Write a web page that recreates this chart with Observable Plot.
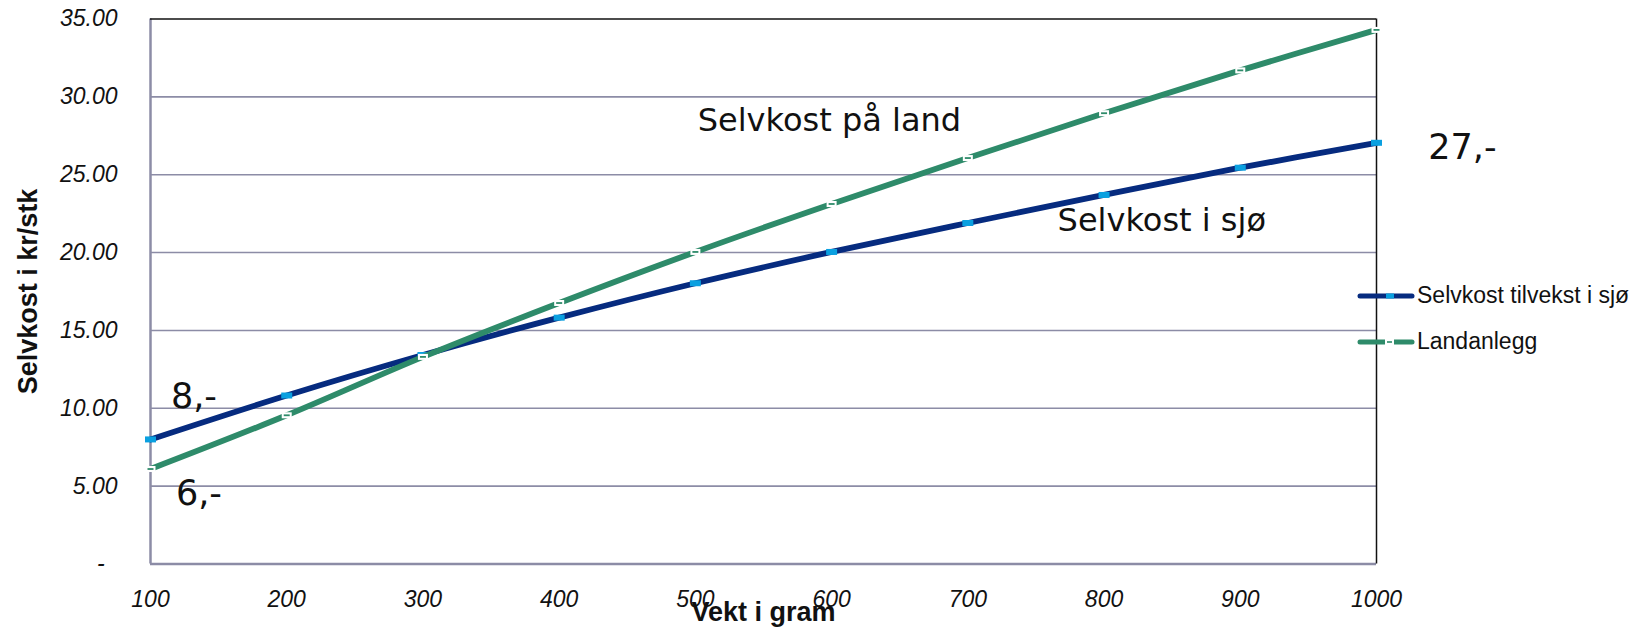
<!DOCTYPE html>
<html><head><meta charset="utf-8">
<script src="https://cdn.jsdelivr.net/npm/d3@7"></script>
<script src="https://cdn.jsdelivr.net/npm/@observablehq/plot@0.6"></script>
<style>
html,body{margin:0;padding:0;background:#fff;}
#wrap{position:relative;width:1636px;height:628px;overflow:hidden;}
#legend{position:absolute;left:0;top:0;pointer-events:none;}
</style></head><body><div id="wrap"></div>
<script>
// ---- data ----
const weights  = [100, 200, 300, 400, 500, 600, 700, 800, 900, 1000];
const seaCost  = [8.0, 10.82, 13.42, 15.82, 18.03, 20.04, 21.9, 23.7, 25.45, 27.05];
const landCost = [6.1, 9.55, 13.3, 16.76, 20.04, 23.12, 26.07, 28.95, 31.7, 34.3];
const seriesNames  = ["Selvkost tilvekst i sjø", "Landanlegg"];
const seriesColors = ["#062b7f", "#2e8b6a"];
const markerColor  = "#0aa0e0";
const yTicks = [0, 5, 10, 15, 20, 25, 30, 35];
const gridTicks = [5, 10, 15, 20, 25, 30];
const xTitle = "Vekt i gram";
const yTitle = "Selvkost i kr/stk";
const noteLabels = ["Selvkost på land", "Selvkost i sjø"];
const noteX = [501.7, 765.9];
const noteY = [27.8, 21.4];
const valueLabels = ["8,-", "6,-", "27,-"];
const valueX = [115, 118.7, 1038];
const valueY = [10.05, 3.76, 26.04];

const sea  = weights.map((w, i) => ({w, v: seaCost[i]}));
const land = weights.map((w, i) => ({w, v: landCost[i]}));
const notes = noteLabels.map((t, i) => ({t, x: noteX[i], y: noteY[i]}));
const values = valueLabels.map((t, i) => ({t, x: valueX[i], y: valueY[i]}));

const rectSymbol = (w, h) => ({draw(ctx) {
  ctx.moveTo(-w/2, -h/2); ctx.lineTo(w/2, -h/2); ctx.lineTo(w/2, h/2); ctx.lineTo(-w/2, h/2); ctx.closePath();
}});

const gridColor = "#8c8ca6";
const W = 1636, H = 628;

const chart = Plot.plot({
  width: W, height: H,
  marginLeft: 150, marginRight: 260, marginTop: 18.5, marginBottom: 64.5,
  style: {fontFamily: "Liberation Sans, Arial, sans-serif", background: "#fff", color: "#111"},
  x: {domain: [100, 1000], label: null},
  y: {domain: [0, 35], label: null},
  marks: [
    Plot.ruleY(gridTicks, {stroke: gridColor, strokeWidth: 1.6}),
    Plot.ruleY([0], {stroke: gridColor, strokeWidth: 2.5}),
    Plot.ruleX([100], {stroke: gridColor, strokeWidth: 2.5}),
    Plot.ruleY([35], {stroke: "#111", strokeWidth: 1.5}),
    Plot.ruleX([1000], {stroke: "#111", strokeWidth: 1.5}),
    Plot.axisX({ticks: weights, tickSize: 0, tickPadding: 27, tickFormat: d => String(d),
      fontSize: 23, fontStyle: "italic", fill: "#111"}),
    Plot.axisY({ticks: yTicks, tickSize: 0, tickPadding: 33,
      tickFormat: d => d === 0 ? "-\u00a0\u00a0" : d.toFixed(2),
      fontSize: 23, fontStyle: "italic", fill: "#111"}),
    Plot.line(sea, {x: "w", y: "v", stroke: seriesColors[0], strokeWidth: 5.8, curve: "catmull-rom"}),
    Plot.dot(sea, {x: "w", y: "v", symbol: rectSymbol(11, 6), fill: markerColor, stroke: "none", r: 5}),
    Plot.line(land, {x: "w", y: "v", stroke: seriesColors[1], strokeWidth: 5.8, curve: "catmull-rom"}),
    Plot.dot(land, {x: "w", y: "v", symbol: rectSymbol(10, 6), fill: "#fff", stroke: "none", r: 5}),
    Plot.dot(land, {x: "w", y: "v", symbol: rectSymbol(6, 1.8), fill: seriesColors[1], stroke: "none", r: 3}),
    Plot.text(notes, {x: "x", y: "y", text: "t", textAnchor: "start", lineAnchor: "bottom",
      fontFamily: "DejaVu Sans", fontSize: 32, fill: "#111"}),
    Plot.text(values, {x: "x", y: "y", text: "t", textAnchor: "start", lineAnchor: "bottom",
      fontFamily: "DejaVu Sans", fontSize: 35, fill: "#111"}),
    Plot.text([xTitle], {frameAnchor: "bottom", lineAnchor: "bottom", dy: 56.5,
      fontSize: 27, fontWeight: "bold", fill: "#111"}),
    Plot.text([yTitle], {frameAnchor: "left", rotate: -90, lineAnchor: "middle", textAnchor: "middle", dx: -122,
      fontSize: 27, fontWeight: "bold", fill: "#111"})
  ]
});
const wrap = document.getElementById("wrap");
wrap.appendChild(chart);

// ---- legend ----
const legendY = [296, 342];
const lg = d3.select(wrap).append("svg").attr("id", "legend").attr("width", W).attr("height", H);
seriesNames.forEach((name, i) => {
  const g = lg.append("g");
  const y = legendY[i];
  g.append("line").attr("x1", 1360).attr("x2", 1412).attr("y1", y).attr("y2", y)
    .attr("stroke", seriesColors[i]).attr("stroke-width", 5).attr("stroke-linecap", "round");
  if (i === 0) {
    g.append("rect").attr("x", 1386).attr("y", y - 2.5).attr("width", 8).attr("height", 5).attr("fill", markerColor);
  } else {
    g.append("rect").attr("x", 1385).attr("y", y - 3).attr("width", 9).attr("height", 6).attr("fill", "#fff");
    g.append("rect").attr("x", 1387).attr("y", y - 0.8).attr("width", 5).attr("height", 1.6).attr("fill", seriesColors[i]);
  }
  g.append("text").attr("x", 1417).attr("y", y + 7).text(name)
    .attr("font-family", "Liberation Sans, Arial, sans-serif").attr("font-size", 23).attr("fill", "#111");
});
</script></body></html>
